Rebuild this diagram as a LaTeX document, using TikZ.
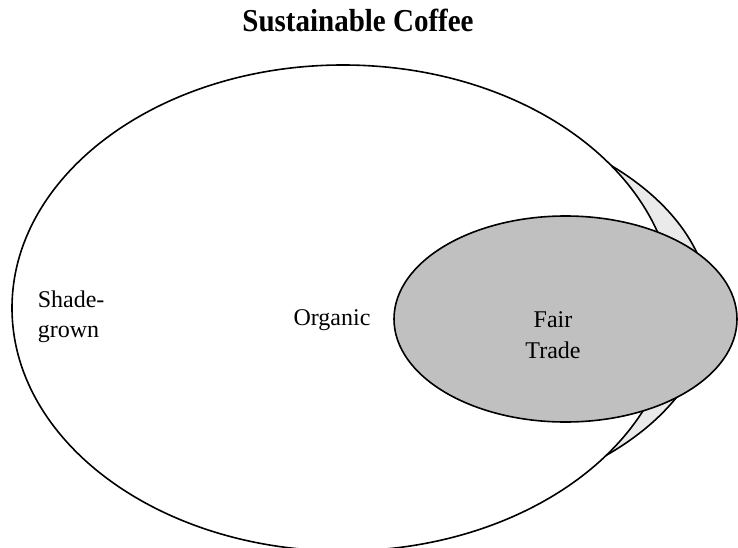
\documentclass[tikz,border=0pt]{standalone}
\usepackage{fontspec}
\setmainfont{Liberation Serif}
\definecolor{fairgray}{HTML}{C0C0C0}
\definecolor{orggray}{HTML}{EAEAEA}
\begin{document}
\begin{tikzpicture}[x=1pt,y=-1pt,line width=1.6pt,
        lbl/.style={font=\fontsize{24}{30}\selectfont,inner sep=0pt}]
        \useasboundingbox (0,0) rectangle (738,548);
        \node[font=\fontsize{29}{34}\selectfont\bfseries,anchor=base,inner sep=0pt] (title) at (358,32) {\scalebox{1}[1.1]{Sustainable Coffee}};
        % sets, back to front
        \draw[fill=orggray] (380,309) ellipse [x radius=330, y radius=201];
        \draw[fill=white] (343,308) ellipse [x radius=331, y radius=243];
        \draw[fill=fairgray] (565.5,319) ellipse [x radius=171.5, y radius=103];
        % labels, anchored at the last baseline
        \node[lbl,anchor=base west,align=left] (shade) at (37,337) {Shade-\\grown};
        \node[lbl,anchor=base] (organic) at (332,325) {Organic};
        \node[lbl,font=\fontsize{24}{31}\selectfont,anchor=base,align=center] (fair) at (553,358) {Fair\\Trade};
    \end{tikzpicture}
\end{document}
